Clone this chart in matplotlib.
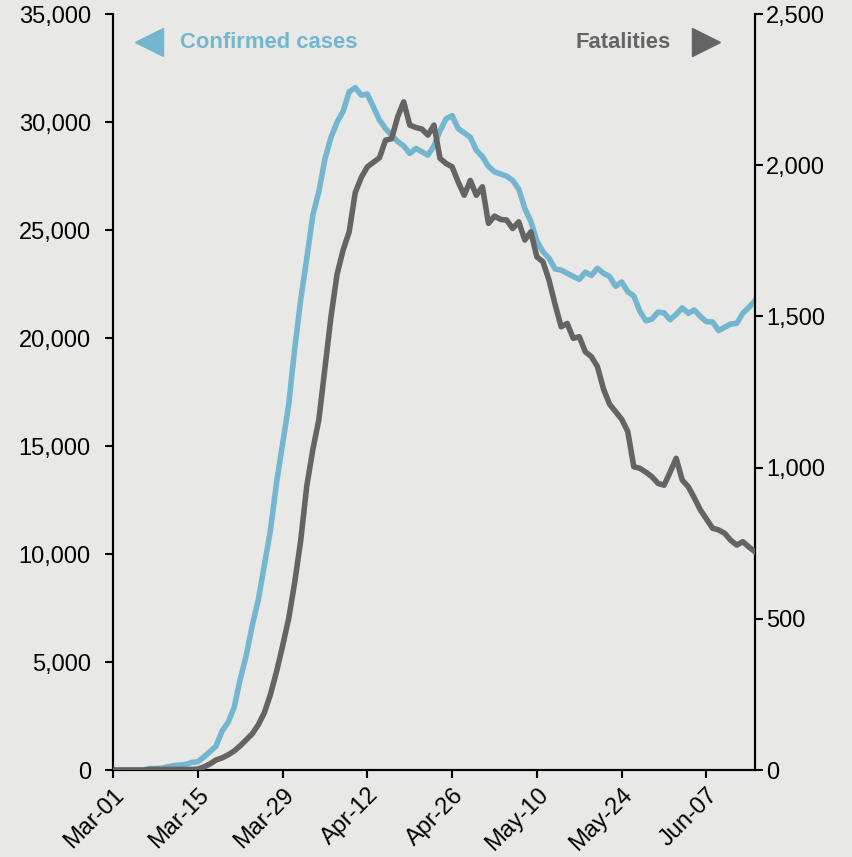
import matplotlib
matplotlib.use("Agg")
import matplotlib.pyplot as plt
import matplotlib.dates as mdates
import matplotlib.ticker as tkr
import pandas as pd

# daily values, Mar-01 .. Jun-15
start_date = "2020-03-01"
confirmed = [0, 0, 0, 0, 0, 0, 60, 70, 80, 150,
             200, 230, 260, 350, 380, 600, 850, 1100, 1800, 2200,
             2900, 4200, 5300, 6700, 7900, 9500, 11100, 13300, 15100, 16900,
             19500, 21800, 23700, 25700, 26800, 28300, 29300, 30000, 30500, 31400,
             31600, 31250, 31300, 30700, 30100, 29700, 29400, 29100, 28900, 28550,
             28780, 28630, 28470, 28900, 29600, 30150, 30300, 29700, 29500, 29300,
             28700, 28400, 27950, 27700, 27600, 27500, 27300, 26900, 26000, 25400,
             24500, 24000, 23700, 23200, 23150, 23000, 22850, 22720, 23050, 22900,
             23230, 23000, 22850, 22400, 22600, 22150, 21950, 21250, 20800, 20880,
             21200, 21170, 20850, 21100, 21400, 21150, 21300, 21000, 20760, 20750,
             20350, 20500, 20650, 20680, 21150, 21420, 21730]
fatalities = [0, 0, 0, 0, 0, 0, 2, 2, 2, 2,
              2, 2, 2, 2, 3, 10, 20, 33, 40, 50,
              63, 80, 100, 120, 150, 190, 250, 325, 410, 500,
              620, 760, 940, 1060, 1160, 1330, 1500, 1640, 1720, 1780,
              1910, 1960, 1995, 2010, 2025, 2083, 2088, 2160, 2210, 2133,
              2125, 2120, 2100, 2133, 2023, 2006, 1995, 1945, 1901, 1950,
              1901, 1929, 1808, 1832, 1821, 1819, 1791, 1813, 1753, 1780,
              1697, 1681, 1620, 1540, 1466, 1477, 1428, 1433, 1383, 1367,
              1334, 1260, 1210, 1185, 1160, 1120, 1003, 998, 985, 970,
              948, 942, 985, 1031, 959, 937, 900, 860, 830, 800,
              794, 783, 760, 744, 755, 738, 722]

dates = pd.date_range(start_date, periods=len(confirmed), freq="D")

BLUE = "#74b6cf"
GREY = "#646464"
BG = "#e8e8e6"

plt.rcParams['font.family'] = ['Liberation Sans', 'DejaVu Sans']

fig = plt.figure(figsize=(8.53, 8.57), dpi=100, facecolor=BG)
ax = fig.add_axes([0.1325, 0.1015, 0.7525, 0.882])
ax.set_facecolor(BG)
ax2 = ax.twinx()

ax.plot(dates, confirmed, color=BLUE, lw=4, solid_joinstyle="round", zorder=3)
ax2.plot(dates, fatalities, color=GREY, lw=4, solid_joinstyle="round", zorder=3)

ax.set_xlim(dates[0], dates[-1])
ax.set_ylim(0, 35000)
ax2.set_ylim(0, 2500)
ax.yaxis.set_major_locator(tkr.MultipleLocator(5000))
ax2.yaxis.set_major_locator(tkr.MultipleLocator(500))
ax.yaxis.set_major_formatter(tkr.FuncFormatter(lambda x, p: format(int(x), ',')))
ax2.yaxis.set_major_formatter(tkr.FuncFormatter(lambda x, p: format(int(x), ',')))

ax.set_xticks(pd.date_range(start_date, dates[-1], freq="14D"))
ax.xaxis.set_major_formatter(mdates.DateFormatter("%b-%d"))
for lbl in ax.get_xticklabels():
    lbl.set_rotation(45)
    lbl.set_ha("right")
    lbl.set_rotation_mode("anchor")

for a in (ax, ax2):
    a.spines["top"].set_visible(False)
    for s in ("left", "right", "bottom"):
        a.spines[s].set_linewidth(1.5)
        a.spines[s].set_color("black")
    a.tick_params(direction="out", length=6, width=1.5, labelsize=17, colors="black")
ax.tick_params(axis="y", pad=10)
ax.tick_params(axis="x", pad=4)
ax2.tick_params(axis="y", pad=2)

# legend-like labels
ax.plot([0.056], [0.963], marker="<", ms=20, color=BLUE, transform=ax.transAxes,
        clip_on=False, zorder=5)
ax.text(0.104, 0.963, "Confirmed cases", color=BLUE, fontsize=15.8, weight="bold",
        transform=ax.transAxes, va="center", ha="left")
ax.plot([0.924], [0.963], marker=">", ms=20, color=GREY, transform=ax.transAxes,
        clip_on=False, zorder=5)
ax.text(0.869, 0.963, "Fatalities", color=GREY, fontsize=15.8, weight="bold",
        transform=ax.transAxes, va="center", ha="right")

plt.savefig("out.png", dpi=100, facecolor=BG)
plt.close()
